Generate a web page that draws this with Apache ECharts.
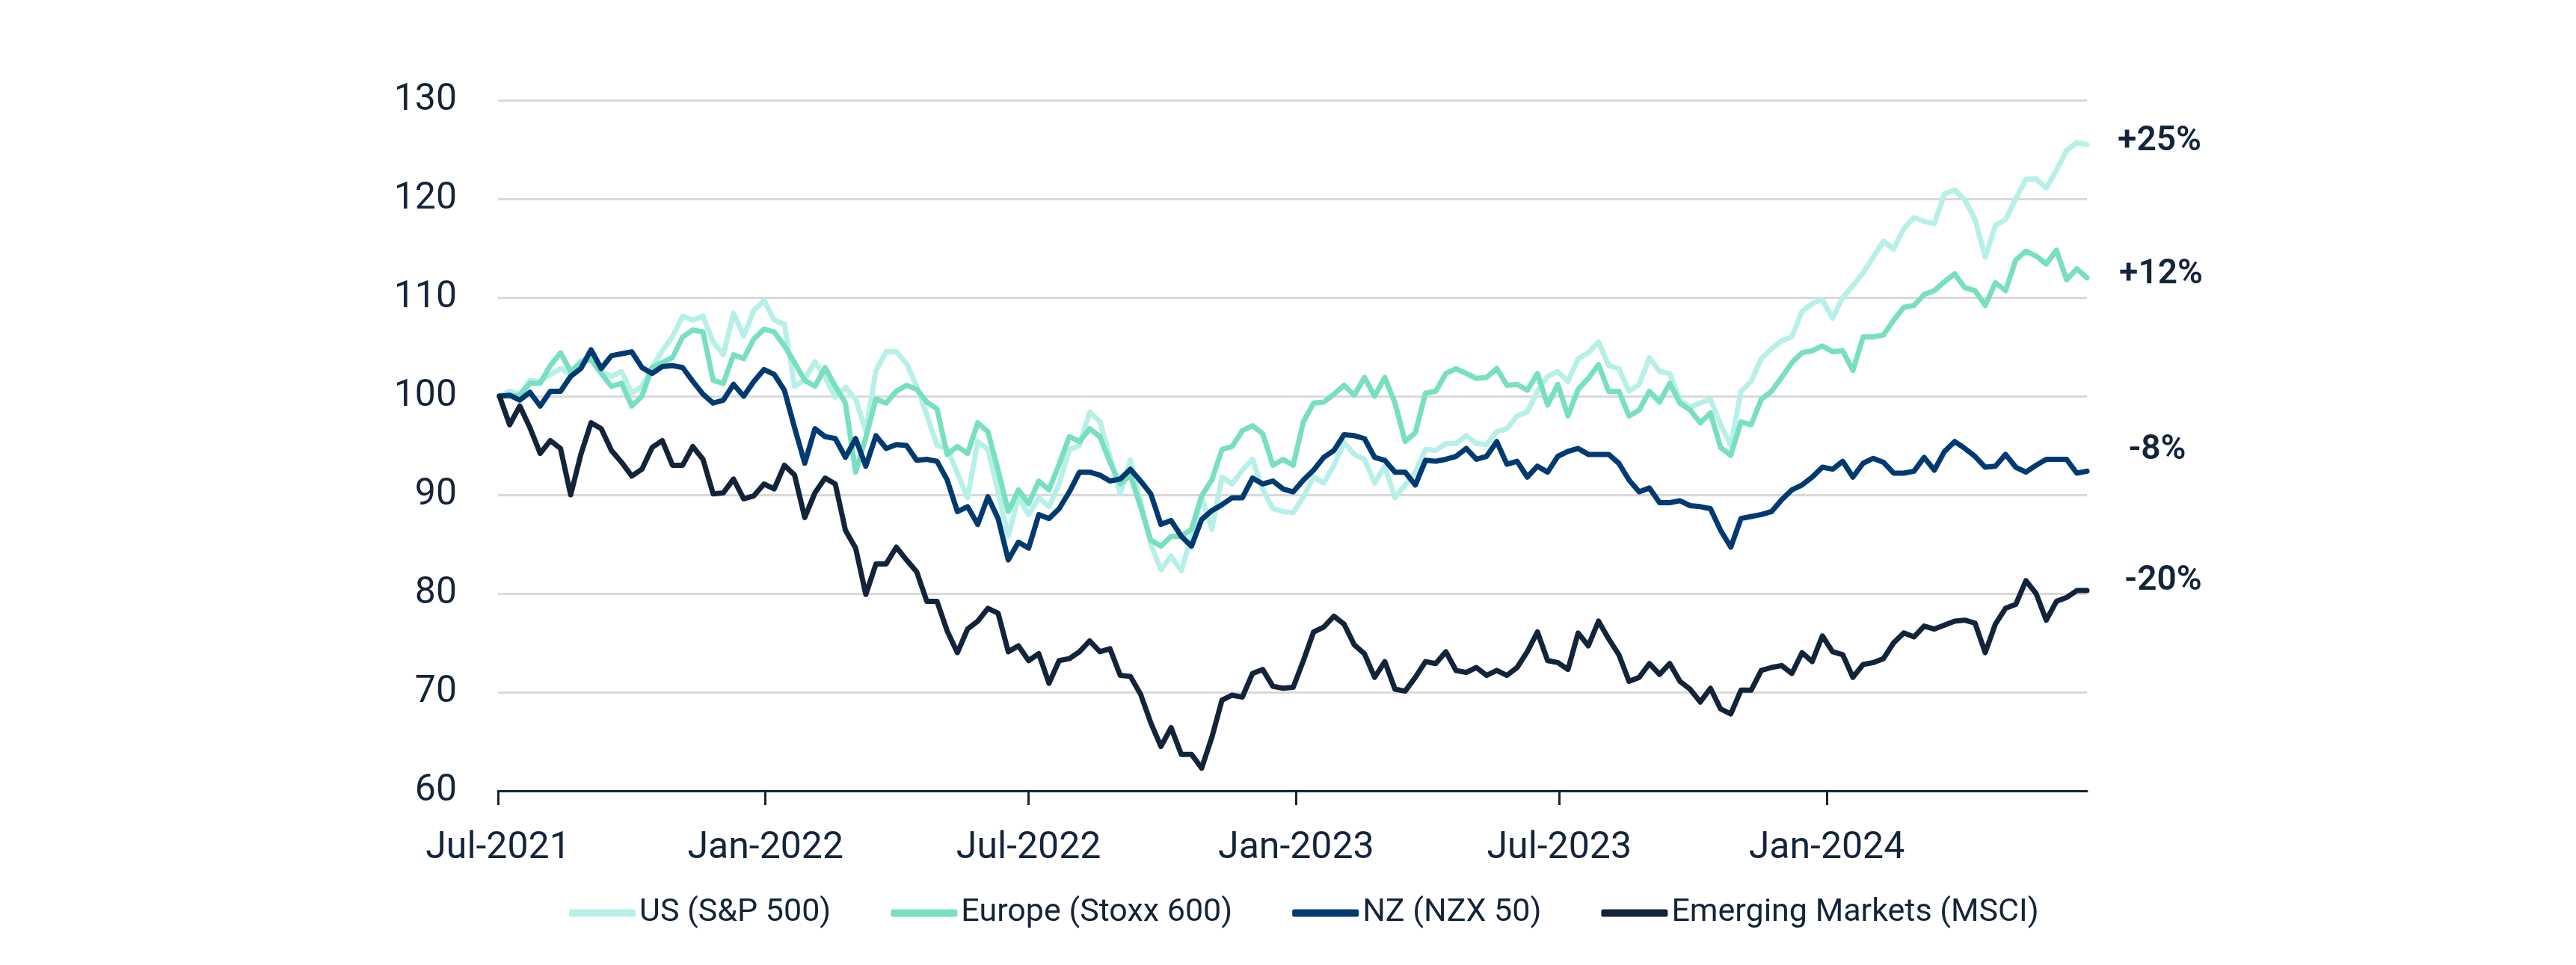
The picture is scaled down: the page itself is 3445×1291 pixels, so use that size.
<!DOCTYPE html>
<html>
<head>
<meta charset="utf-8">
<script src="https://cdn.jsdelivr.net/npm/echarts@6/dist/echarts.min.js"></script>
<style>
html,body{margin:0;padding:0;background:#ffffff;}
#chart{width:3445px;height:1291px;}
</style>
</head>
<body>
<div id="chart"></div>
<script>
// ---- data ----
const seriesNames = ['US (S&P 500)', 'Europe (Stoxx 600)', 'NZ (NZX 50)', 'Emerging Markets (MSCI)'];
const firstWeek = '2021-07-02';   // first weekly observation, one point per week
const axisStart = '2021-07-01';
const axisEnd = '2024-06-28';
const tickDates = ['2021-07-01', '2022-01-01', '2022-07-01', '2023-01-01', '2023-07-01', '2024-01-01'];
const tickLabels = ['Jul-2021', 'Jan-2022', 'Jul-2022', 'Jan-2023', 'Jul-2023', 'Jan-2024'];
const endLabels = ['+25%', '+12%', '-8%', '-20%'];

const us = [100.0,100.5,100.2,101.6,101.5,102.2,102.8,102.2,103.6,103.9,
102.5,102.0,102.5,100.3,101.0,102.9,104.6,106.0,108.1,107.7,
108.1,105.5,104.2,108.4,106.1,108.7,109.7,107.7,107.3,101.0,
101.7,103.5,101.9,99.9,100.9,99.7,96.5,102.6,104.5,104.5,
103.3,101.0,98.1,95.0,94.7,92.2,89.7,95.4,94.6,90.3,
85.8,89.8,88.0,89.7,88.8,91.1,94.6,95.0,98.4,97.4,
93.9,90.1,93.5,89.3,85.0,82.4,83.8,82.3,85.8,89.8,
86.5,91.8,91.1,92.5,93.6,90.6,88.6,88.3,88.2,89.8,
91.8,91.2,93.0,95.3,94.1,93.6,91.2,92.9,89.7,91.0,
92.3,94.6,94.5,95.2,95.2,96.0,95.2,95.1,96.4,96.7,
98.0,98.4,100.5,102.0,102.5,101.5,103.8,104.4,105.5,103.1,
102.8,100.5,101.2,103.9,102.5,102.3,99.6,98.9,99.3,99.7,
97.1,95.0,100.5,101.5,103.8,104.8,105.6,106.0,108.6,109.4,
109.8,107.9,110.0,111.2,112.5,114.1,115.7,114.9,117.0,118.1,
117.7,117.5,120.5,120.9,119.9,117.9,114.1,117.3,117.9,120.0,
122.0,122.0,121.1,122.9,124.9,125.7,125.5];

const europe = [100.0,100.0,100.1,101.3,101.3,103.1,104.4,102.5,103.4,103.7,
102.3,101.0,101.3,99.0,100.0,102.9,103.4,103.9,106.0,106.7,
106.5,101.6,101.3,104.2,103.8,105.8,106.8,106.5,105.1,103.4,
101.6,101.0,102.9,101.0,99.3,92.3,95.8,99.7,99.3,100.5,
101.1,100.7,99.4,98.7,94.1,94.9,94.2,97.3,96.4,92.5,
88.3,90.5,89.1,91.4,90.5,93.1,95.9,95.4,96.7,95.9,
93.3,91.1,92.0,88.8,85.4,84.8,85.8,85.8,86.5,89.9,
91.5,94.6,94.9,96.5,97.0,96.2,93.0,93.6,93.0,97.4,
99.3,99.4,100.2,101.1,100.1,101.9,100.0,101.9,99.3,95.4,
96.3,100.3,100.5,102.3,102.8,102.3,101.8,101.9,102.8,101.1,
101.2,100.6,102.3,99.1,101.2,98.0,100.7,101.8,103.2,100.5,
100.5,98.0,98.6,100.5,99.4,101.3,99.3,98.6,97.3,98.3,
94.8,94.0,97.4,97.1,99.7,100.5,101.9,103.4,104.4,104.6,
105.1,104.5,104.6,102.6,106.0,106.0,106.2,107.7,109.0,109.2,
110.3,110.7,111.6,112.4,111.0,110.7,109.2,111.5,110.7,113.8,
114.7,114.2,113.4,114.8,111.8,112.9,112.0];

const nz = [100.0,100.1,99.6,100.4,99.0,100.5,100.5,102.0,102.8,104.7,
102.8,104.1,104.3,104.5,102.9,102.3,103.0,103.1,102.9,101.5,
100.2,99.3,99.6,101.2,100.0,101.5,102.7,102.2,100.6,96.8,
93.2,96.7,95.9,95.7,93.8,95.7,92.9,96.0,94.7,95.1,
95.0,93.5,93.6,93.4,91.5,88.3,88.8,87.0,89.8,87.6,
83.4,85.2,84.6,88.0,87.6,88.6,90.3,92.3,92.3,92.0,
91.4,91.6,92.6,91.4,90.1,87.0,87.4,85.8,84.8,87.5,
88.4,89.0,89.7,89.7,91.7,91.1,91.4,90.6,90.3,91.5,
92.5,93.8,94.5,96.1,96.0,95.7,93.8,93.5,92.3,92.3,
91.0,93.5,93.4,93.6,93.9,94.7,93.6,93.9,95.4,93.1,
93.4,91.8,92.9,92.3,93.9,94.4,94.7,94.1,94.1,94.1,
93.2,91.5,90.3,90.7,89.2,89.2,89.4,88.9,88.8,88.6,
86.4,84.7,87.6,87.8,88.0,88.3,89.5,90.5,91.0,91.8,
92.8,92.6,93.4,91.8,93.2,93.7,93.3,92.2,92.2,92.4,
93.8,92.5,94.4,95.4,94.7,93.9,92.8,92.9,94.1,92.8,
92.3,93.0,93.6,93.6,93.6,92.2,92.4];

const em = [100.0,97.1,99.0,96.8,94.2,95.5,94.7,90.0,94.1,97.3,
96.7,94.5,93.3,91.9,92.6,94.8,95.5,93.0,93.0,94.9,
93.6,90.1,90.2,91.6,89.6,89.9,91.1,90.6,93.0,92.0,
87.7,90.2,91.7,91.1,86.4,84.6,79.9,83.0,83.0,84.7,
83.4,82.2,79.2,79.2,76.2,74.0,76.4,77.2,78.5,78.0,
74.1,74.7,73.2,73.9,70.9,73.2,73.4,74.1,75.2,74.1,
74.4,71.7,71.6,69.8,66.9,64.5,66.4,63.7,63.7,62.3,
65.4,69.2,69.7,69.5,71.9,72.3,70.6,70.4,70.5,73.2,
76.1,76.6,77.7,76.9,74.8,73.9,71.5,73.1,70.3,70.1,
71.5,73.1,72.9,74.1,72.2,72.0,72.5,71.7,72.2,71.7,
72.5,74.1,76.1,73.2,73.0,72.3,76.0,74.7,77.2,75.4,
73.8,71.1,71.5,72.9,71.8,72.9,71.1,70.3,69.0,70.4,
68.3,67.8,70.2,70.2,72.2,72.5,72.7,71.9,74.0,73.1,
75.7,74.1,73.8,71.5,72.8,73.0,73.4,75.0,76.0,75.6,
76.7,76.4,76.8,77.2,77.3,77.0,74.0,76.9,78.5,78.9,
81.3,80.0,77.3,79.2,79.6,80.3,80.3];

const yTicks = { min: 60, max: 130, step: 10 };

// ---- build ----
function parseDay(s) {
  const p = s.split('-').map(Number);
  return new Date(p[0], p[1] - 1, p[2]).getTime();
}
const t0 = parseDay(firstWeek);
const weekTimes = us.map((_, i) => {
  const d = new Date(t0);
  d.setDate(d.getDate() + 7 * i);
  return d.getTime();
});
const tickTimes = tickDates.map(parseDay);
function tickName(v) {
  let best = 0, bd = Infinity;
  tickTimes.forEach((t, i) => { const dd = Math.abs(t - v); if (dd < bd) { bd = dd; best = i; } });
  return tickLabels[best];
}

const colors = ['#b7f0e8', '#78dfc0', '#003a70', '#13243a'];
const textColor = '#14243a';
const fontFamily = 'Roboto, "Liberation Sans", Arial, sans-serif';
const values = [us, europe, nz, em];
const endOffsets = [[97, -4], [99, -4], [94, -28], [102, -13]];

const series = values.map((arr, k) => ({
  name: seriesNames[k],
  type: 'line',
  data: arr.map((v, i) => [weekTimes[i], v]),
  showSymbol: false,
  symbol: 'none',
  color: colors[k],
  lineStyle: { width: 7, color: colors[k], join: 'round', cap: 'round' },
  emphasis: { disabled: true },
  z: 2 + k,
  endLabel: {
    show: true,
    formatter: endLabels[k],
    color: textColor,
    fontFamily: fontFamily,
    fontSize: 46,
    fontWeight: 600,
    align: 'center',
    verticalAlign: 'middle',
    distance: 0,
    offset: endOffsets[k]
  }
}));

const chart = echarts.init(document.getElementById('chart'), null, { renderer: 'canvas' });
chart.setOption({
  animation: false,
  backgroundColor: '#ffffff',
  textStyle: { fontFamily: fontFamily },
  grid: { left: 666, right: 654, top: 134, bottom: 233, containLabel: false },
  legend: {
    data: seriesNames,
    left: 756,
    top: 1195,
    icon: 'roundRect',
    itemWidth: 89,
    itemHeight: 10,
    itemGap: 80,
    textStyle: { color: textColor, fontSize: 43, fontFamily: fontFamily }
  },
  xAxis: {
    type: 'value',
    min: parseDay(axisStart),
    max: parseDay(axisEnd),
    splitLine: { show: false },
    axisLine: { show: true, lineStyle: { color: textColor, width: 3 } },
    axisTick: { show: true, customValues: tickTimes, length: 19, lineStyle: { color: textColor, width: 3 } },
    axisLabel: {
      customValues: tickTimes,
      formatter: (v) => tickName(v),
      color: textColor,
      fontSize: 50,
      margin: 52,
      fontFamily: fontFamily,
      showMinLabel: true,
      showMaxLabel: true,
      hideOverlap: false
    }
  },
  yAxis: {
    type: 'value',
    min: yTicks.min,
    max: yTicks.max,
    interval: yTicks.step,
    axisLine: { show: false },
    axisTick: { show: false },
    axisLabel: { color: textColor, fontSize: 50, margin: 55, fontFamily: fontFamily },
    splitLine: { show: true, lineStyle: { color: '#d9d9d9', width: 3 } }
  },
  series: series
});
</script>
</body>
</html>
